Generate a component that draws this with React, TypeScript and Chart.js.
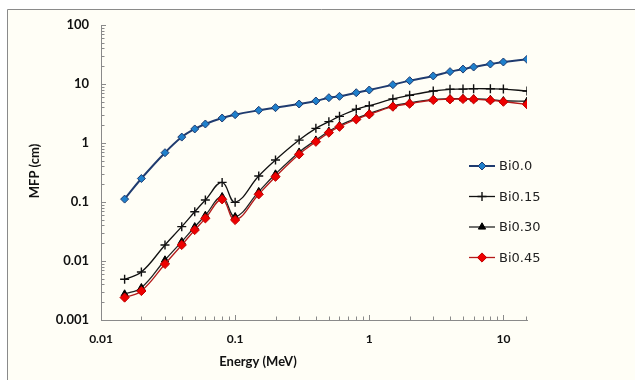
import { useEffect, useRef } from "react";
import { Chart, registerables } from "chart.js";
import { drawPoint } from "chart.js/helpers";

Chart.register(...registerables);

// Photon energies (MeV)
const energies = [
  0.015, 0.02, 0.03, 0.04, 0.05, 0.06, 0.08, 0.1, 0.15, 0.2, 0.3, 0.4, 0.5,
  0.6, 0.8, 1, 1.5, 2, 3, 4, 5, 6, 8, 10, 15,
];

// Mean free path (cm) per Bi content
const mfpBi000 = [
  0.112, 0.25, 0.685, 1.26, 1.73, 2.1, 2.65, 3.02, 3.58, 3.97, 4.58, 5.15, 5.86,
  6.18, 7.12, 7.91, 9.74, 11.4, 13.7, 16.2, 17.9, 19.4, 21.8, 23.6, 26.2,
];
const mfpBi015 = [
  0.0049, 0.0065, 0.0187, 0.0382, 0.0685, 0.108, 0.215, 0.0987, 0.276, 0.515,
  1.12, 1.77, 2.3, 2.83, 3.73, 4.29, 5.57, 6.43, 7.61, 8.13, 8.2, 8.33, 8.3,
  8.2, 7.6,
];
const mfpBi030 = [
  0.00276, 0.00353, 0.0104, 0.0213, 0.038, 0.0594, 0.123, 0.0563, 0.15, 0.298,
  0.7, 1.12, 1.58, 1.98, 2.62, 3.15, 4.25, 4.78, 5.5, 5.62, 5.66, 5.6, 5.45,
  5.2, 5.1,
];
const mfpBi045 = [
  0.0024, 0.0031, 0.0089, 0.0187, 0.0335, 0.0528, 0.111, 0.0495, 0.135, 0.268,
  0.643, 1.05, 1.5, 1.89, 2.52, 3.06, 4.13, 4.64, 5.36, 5.5, 5.57, 5.5, 5.3,
  5.01, 4.53,
];

const seriesNames = ["Bi0.0", "Bi0.15", "Bi0.30", "Bi0.45"];
const xTickValues = [0.01, 0.1, 1, 10];
const yTickValues = [0.001, 0.01, 0.1, 1, 10, 100];
const xTitle = "Energy (MeV)";
const yTitle = "MFP (cm)";

const boldFont = "Lato";
const legendFont = "DejaVu Sans";

const toPoints = (ys: number[]) => energies.map((x, i) => ({ x, y: ys[i] }));

// Page backdrop: white page with a cream framed panel
const backdrop = {
  id: "backdrop",
  beforeDraw(chart: any) {
    const { ctx, width, height } = chart;
    ctx.save();
    ctx.fillStyle = "#ffffff";
    ctx.fillRect(0, 0, width, height);
    ctx.fillStyle = "#fffef6";
    ctx.fillRect(8, 10, width - 8, height - 10);
    ctx.strokeStyle = "#8a8a8a";
    ctx.lineWidth = 1;
    ctx.beginPath();
    ctx.moveTo(7.5, height);
    ctx.lineTo(7.5, 9.5);
    ctx.lineTo(width, 9.5);
    ctx.stroke();
    ctx.restore();
  },
};

// Inward major/minor tick marks on both log axes
const innerTicks = {
  id: "innerTicks",
  beforeDatasetsDraw(chart: any) {
    const { ctx, chartArea, scales } = chart;
    const xs = scales.x;
    const ys = scales.y;
    ctx.save();
    ctx.strokeStyle = "#8a8a8a";
    ctx.lineWidth = 1;
    ctx.beginPath();
    const decadesX = [0.01, 0.1, 1, 10];
    for (const d of decadesX) {
      for (let m = 1; m <= 9; m++) {
        const v = d * m;
        if (v < xs.min || v > xs.max) continue;
        const px = Math.round(xs.getPixelForValue(v)) + 0.5;
        const len = m === 1 ? 5 : 3.5;
        ctx.moveTo(px, chartArea.bottom);
        ctx.lineTo(px, chartArea.bottom - len);
      }
    }
    const pxEnd = Math.round(xs.getPixelForValue(xs.max)) - 0.5;
    ctx.moveTo(pxEnd, chartArea.bottom);
    ctx.lineTo(pxEnd, chartArea.bottom - 3.5);
    const decadesY = [0.001, 0.01, 0.1, 1, 10];
    for (const d of decadesY) {
      for (let m = 1; m <= 10; m++) {
        const v = d * m;
        if (v < ys.min || v > ys.max) continue;
        if (m === 10 && d !== 10) continue;
        const py = Math.round(ys.getPixelForValue(v)) + 0.5;
        const len = m === 1 || m === 10 ? 5 : 3.5;
        ctx.moveTo(chartArea.left, py);
        ctx.lineTo(chartArea.left + len, py);
      }
    }
    ctx.stroke();
    ctx.restore();
  },
};

// Axis titles
const axisTitles = {
  id: "axisTitles",
  afterDraw(chart: any) {
    const { ctx, chartArea } = chart;
    ctx.save();
    ctx.fillStyle = "#111111";
    ctx.font = `bold 13px ${boldFont}`;
    ctx.textAlign = "center";
    ctx.textBaseline = "middle";
    ctx.fillText(xTitle, chartArea.left + 157, chartArea.bottom + 42);
    ctx.translate(35, chartArea.top + 146);
    ctx.rotate(-Math.PI / 2);
    ctx.fillText(yTitle, 0, 0);
    ctx.restore();
  },
};

// Legend inside the plot, lines with markers
const insideLegend = {
  id: "insideLegend",
  afterDraw(chart: any) {
    const { ctx } = chart;
    const x0 = 469;
    const x1 = 495;
    const top = 166;
    const step = 30.5;
    ctx.save();
    chart.data.datasets.forEach((ds: any, i: number) => {
      const y = top + i * step;
      ctx.strokeStyle = ds.borderColor;
      ctx.lineWidth = ds.borderWidth;
      ctx.beginPath();
      ctx.moveTo(x0, y);
      ctx.lineTo(x1, y);
      ctx.stroke();
      ctx.fillStyle = ds.pointBackgroundColor;
      ctx.strokeStyle = ds.pointBorderColor;
      ctx.lineWidth = ds.pointBorderWidth;
      drawPoint(
        ctx,
        {
          pointStyle: ds.pointStyle,
          radius: ds.pointRadius,
          rotation: 0,
          borderWidth: ds.pointBorderWidth,
        } as any,
        (x0 + x1) / 2,
        y
      );
      ctx.fillStyle = "#222222";
      ctx.font = `13px ${legendFont}`;
      ctx.textAlign = "left";
      ctx.textBaseline = "middle";
      ctx.fillText(ds.label, x1 + 4, y + 1);
    });
    ctx.restore();
  },
};

export default function App() {
  const canvasRef = useRef<HTMLCanvasElement | null>(null);

  useEffect(() => {
    const canvas = canvasRef.current;
    if (!canvas) return;
    const common = {
      tension: 0.4,
      fill: false,
      pointHoverRadius: 4,
    };
    const chart = new Chart(canvas, {
      type: "line",
      data: {
        datasets: [
          {
            ...common,
            label: seriesNames[0],
            data: toPoints(mfpBi000),
            borderColor: "#1f3b6f",
            borderWidth: 2,
            pointStyle: "rectRot",
            pointRadius: 4,
            pointBackgroundColor: "#1f80cc",
            pointBorderColor: "#1f3b6f",
            pointBorderWidth: 1,
          },
          {
            ...common,
            label: seriesNames[1],
            data: toPoints(mfpBi015),
            borderColor: "#111111",
            borderWidth: 1.3,
            pointStyle: "cross",
            pointRadius: 4.5,
            pointBackgroundColor: "#111111",
            pointBorderColor: "#111111",
            pointBorderWidth: 1.4,
          },
          {
            ...common,
            label: seriesNames[2],
            data: toPoints(mfpBi030),
            borderColor: "#222222",
            borderWidth: 1.3,
            pointStyle: "triangle",
            pointRadius: 4.2,
            pointBackgroundColor: "#000000",
            pointBorderColor: "#000000",
            pointBorderWidth: 1,
          },
          {
            ...common,
            label: seriesNames[3],
            data: toPoints(mfpBi045),
            borderColor: "#b51a1a",
            borderWidth: 1.3,
            pointStyle: "rectRot",
            pointRadius: 4.6,
            pointBackgroundColor: "#ee0000",
            pointBorderColor: "#c00000",
            pointBorderWidth: 1,
            order: -1,
          },
        ],
      },
      options: {
        animation: false,
        responsive: false,
        devicePixelRatio: 1,
        layout: { padding: { left: 0, right: 108, top: 25, bottom: 0 } },
        plugins: {
          legend: { display: false },
          tooltip: { enabled: false },
        },
        scales: {
          x: {
            type: "logarithmic",
            min: 0.01,
            max: 15,
            afterBuildTicks: (scale: any) => {
              scale.ticks = xTickValues.map((value) => ({ value }));
            },
            afterFit: (scale: any) => {
              scale.height = 60;
            },
            grid: { display: false, drawTicks: false },
            border: { display: true, color: "#8a8a8a", width: 1 },
            ticks: {
              autoSkip: false,
              maxRotation: 0,
              padding: 12,
              color: "#111111",
              font: { family: boldFont, size: 12, weight: "bold" },
              callback: (v: any) => String(v),
            },
          },
          y: {
            type: "logarithmic",
            min: 0.001,
            max: 100,
            afterBuildTicks: (scale: any) => {
              scale.ticks = yTickValues.map((value) => ({ value }));
            },
            afterFit: (scale: any) => {
              scale.width = 101;
            },
            grid: { display: false, drawTicks: false },
            border: { display: true, color: "#8a8a8a", width: 1 },
            ticks: {
              autoSkip: false,
              padding: 12,
              color: "#111111",
              font: { family: boldFont, size: 13, weight: "bold" },
              callback: (v: any) => String(v),
            },
          },
        },
      } as any,
      plugins: [backdrop, innerTicks, axisTitles, insideLegend],
    });
    return () => chart.destroy();
  }, []);

  return (
    <div
      style={{
        position: "absolute",
        left: 0,
        top: 0,
        width: 635,
        height: 380,
      }}
    >
      <canvas ref={canvasRef} width={635} height={380} />
    </div>
  );
}
